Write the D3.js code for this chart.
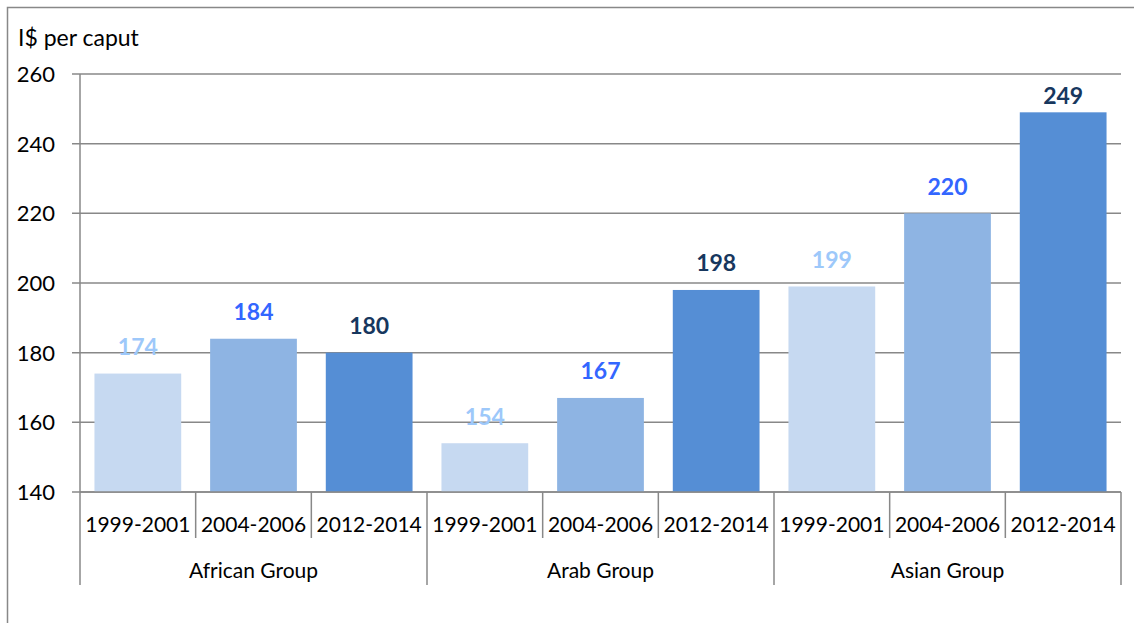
<!DOCTYPE html>
<html>
<head>
<meta charset="utf-8">
<script src="https://cdn.jsdelivr.net/npm/d3@7"></script>
<style>
  body { margin: 0; background: #fff; }
  text { font-family: Lato, "Open Sans", sans-serif; }
</style>
</head>
<body>
<div id="chart"></div>
<script>
// chart data
var groups = ["African Group", "Arab Group", "Asian Group"];
var periods = ["1999-2001", "2004-2006", "2012-2014"];
var values = [
  [174, 184, 180],
  [154, 167, 198],
  [199, 220, 249]
];
var yTicks = [140, 160, 180, 200, 220, 240, 260];
var yTitle = "I$ per caput";

var barColors = ["#c6d9f1", "#8eb4e3", "#558ed5"];
var labelColors = ["#9dc8fa", "#3366ff", "#17375e"];

var width = 1134, height = 623;
var margin = {top: 74, right: 13, bottom: 131, left: 80};
var innerW = width - margin.left - margin.right;
var innerH = height - margin.top - margin.bottom;

var svg = d3.select("#chart").append("svg")
  .attr("width", width)
  .attr("height", height);

// outer frame (only top and left edges are visible)
svg.append("path")
  .attr("d", "M7.5," + height + "V7.5H" + width)
  .attr("fill", "none")
  .attr("stroke", "#888")
  .attr("stroke-width", 1.5);

var g = svg.append("g")
  .attr("transform", "translate(" + margin.left + "," + margin.top + ")");

var y = d3.scaleLinear().domain([140, 260]).range([innerH, 0]);
var x0 = d3.scaleBand().domain(groups).range([0, innerW]);
var x1 = d3.scaleBand().domain(periods).range([0, x0.bandwidth()])
  .paddingInner(0.25).paddingOuter(0.125);

// gridlines
g.selectAll("line.grid")
  .data(yTicks)
  .enter().append("line")
  .attr("class", "grid")
  .attr("x1", -8)
  .attr("x2", innerW)
  .attr("y1", function(d) { return y(d); })
  .attr("y2", function(d) { return y(d); })
  .attr("stroke", "#888")
  .attr("stroke-width", 1.5);

// y tick labels
g.selectAll("text.ytick")
  .data(yTicks)
  .enter().append("text")
  .attr("class", "ytick")
  .attr("x", -25)
  .attr("y", function(d) { return y(d); })
  .attr("dy", "0.36em")
  .attr("text-anchor", "end")
  .style("font-size", "22px")
  .attr("fill", "#000")
  .text(function(d) { return d; });

svg.append("text")
  .attr("x", 18)
  .attr("y", 38)
  .attr("dy", "0.36em")
  .style("font-size", "23px")
  .attr("fill", "#000")
  .text(yTitle);

// bars
var grp = g.selectAll("g.group")
  .data(groups)
  .enter().append("g")
  .attr("class", "group")
  .attr("transform", function(d) { return "translate(" + x0(d) + ",0)"; });

grp.selectAll("rect")
  .data(function(d, i) { return values[i]; })
  .enter().append("rect")
  .attr("x", function(d, j) { return x1(periods[j]); })
  .attr("y", function(d) { return y(d); })
  .attr("width", x1.bandwidth())
  .attr("height", function(d) { return innerH - y(d); })
  .attr("fill", function(d, j) { return barColors[j]; });

// value labels, kept inside the plot area like the original
grp.selectAll("text.value")
  .data(function(d, i) { return values[i]; })
  .enter().append("text")
  .attr("class", "value")
  .attr("x", function(d, j) { return x1(periods[j]) + x1.bandwidth() / 2; })
  .attr("y", function(d) { return Math.max(y(d) - 27, 22); })
  .attr("dy", "0.36em")
  .attr("text-anchor", "middle")
  .style("font-size", "23px")
  .style("font-weight", "bold")
  .attr("fill", function(d, j) { return labelColors[j]; })
  .text(function(d) { return d; });

// x axis base line
g.append("line")
  .attr("x1", 0).attr("x2", innerW)
  .attr("y1", innerH).attr("y2", innerH)
  .attr("stroke", "#888")
  .attr("stroke-width", 1.5);

// y axis line, reaching down past the group labels
g.append("line")
  .attr("x1", 0).attr("x2", 0)
  .attr("y1", 0).attr("y2", innerH + 93)
  .attr("stroke", "#888")
  .attr("stroke-width", 1.5);

// period separators and labels
groups.forEach(function(gname) {
  periods.forEach(function(p, j) {
    var left = x0(gname) + j * x1.step();
    if (j > 0) {
      g.append("line")
        .attr("x1", left).attr("x2", left)
        .attr("y1", innerH).attr("y2", innerH + 46)
        .attr("stroke", "#888")
        .attr("stroke-width", 1.5);
    }
    g.append("text")
      .attr("x", left + x1.step() / 2)
      .attr("y", innerH + 32)
      .attr("dy", "0.36em")
      .attr("text-anchor", "middle")
      .style("font-size", "21px")
      .attr("fill", "#000")
      .text(p);
  });

  // group separator at right edge
  g.append("line")
    .attr("x1", x0(gname) + x0.bandwidth()).attr("x2", x0(gname) + x0.bandwidth())
    .attr("y1", innerH).attr("y2", innerH + 93)
    .attr("stroke", "#888")
    .attr("stroke-width", 1.5);

  g.append("text")
    .attr("x", x0(gname) + x0.bandwidth() / 2)
    .attr("y", innerH + 78)
    .attr("dy", "0.36em")
    .attr("text-anchor", "middle")
    .style("font-size", "21px")
    .attr("fill", "#000")
    .text(gname);
});
</script>
</body>
</html>
